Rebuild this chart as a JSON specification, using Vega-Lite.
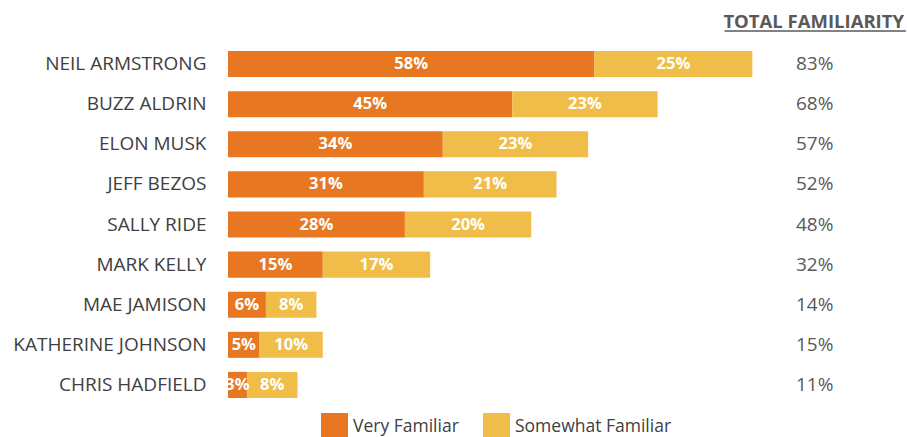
{
  "$schema": "https://vega.github.io/schema/vega-lite/v6.json",
  "autosize": {"type": "none"},
  "width": 676,
  "height": 361,
  "padding": {"left": 228, "top": 44, "right": 3, "bottom": 32},
  "background": "white",
  "config": {"view": {"stroke": null}, "font": "Open Sans"},
  "title": {
    "text": "TOTAL FAMILIARITY",
    "anchor": "end",
    "frame": "group",
    "fontSize": 18.5,
    "fontWeight": "bold",
    "color": "#595959",
    "offset": -1,
    "font": "Open Sans"
  },
  "datasets": {
    "bars": [
      {"name": "NEIL ARMSTRONG", "level": "Very Familiar", "value": 58},
      {"name": "NEIL ARMSTRONG", "level": "Somewhat Familiar", "value": 25},
      {"name": "BUZZ ALDRIN", "level": "Very Familiar", "value": 45},
      {"name": "BUZZ ALDRIN", "level": "Somewhat Familiar", "value": 23},
      {"name": "ELON MUSK", "level": "Very Familiar", "value": 34},
      {"name": "ELON MUSK", "level": "Somewhat Familiar", "value": 23},
      {"name": "JEFF BEZOS", "level": "Very Familiar", "value": 31},
      {"name": "JEFF BEZOS", "level": "Somewhat Familiar", "value": 21},
      {"name": "SALLY RIDE", "level": "Very Familiar", "value": 28},
      {"name": "SALLY RIDE", "level": "Somewhat Familiar", "value": 20},
      {"name": "MARK KELLY", "level": "Very Familiar", "value": 15},
      {"name": "MARK KELLY", "level": "Somewhat Familiar", "value": 17},
      {"name": "MAE JAMISON", "level": "Very Familiar", "value": 6},
      {"name": "MAE JAMISON", "level": "Somewhat Familiar", "value": 8},
      {"name": "KATHERINE JOHNSON", "level": "Very Familiar", "value": 5},
      {"name": "KATHERINE JOHNSON", "level": "Somewhat Familiar", "value": 10},
      {"name": "CHRIS HADFIELD", "level": "Very Familiar", "value": 3},
      {"name": "CHRIS HADFIELD", "level": "Somewhat Familiar", "value": 8}
    ],
    "totals": [
      {"name": "NEIL ARMSTRONG", "total": 83},
      {"name": "BUZZ ALDRIN", "total": 68},
      {"name": "ELON MUSK", "total": 57},
      {"name": "JEFF BEZOS", "total": 52},
      {"name": "SALLY RIDE", "total": 48},
      {"name": "MARK KELLY", "total": 32},
      {"name": "MAE JAMISON", "total": 14},
      {"name": "KATHERINE JOHNSON", "total": 15},
      {"name": "CHRIS HADFIELD", "total": 11}
    ]
  },
  "encoding": {
    "y": {
      "field": "name",
      "type": "nominal",
      "sort": ["NEIL ARMSTRONG", "BUZZ ALDRIN", "ELON MUSK", "JEFF BEZOS", "SALLY RIDE", "MARK KELLY", "MAE JAMISON", "KATHERINE JOHNSON", "CHRIS HADFIELD"],
      "scale": {"paddingInner": 0.35, "paddingOuter": 0.175},
      "axis": {
        "title": null,
        "domain": false,
        "ticks": false,
        "labelPadding": 22,
        "labelFontSize": 19,
        "labelColor": "#404040",
        "labelFont": "Open Sans",
        "labelLimit": 300
      }
    }
  },
  "layer": [
    {
      "data": {"name": "bars"},
      "transform": [
        {"calculate": "datum.level === 'Very Familiar' ? 0 : 1", "as": "ord"},
        {"stack": "value", "groupby": ["name"], "sort": [{"field": "ord"}], "as": ["v0", "v1"]},
        {"calculate": "(datum.v0 + datum.v1) / 2", "as": "mid"},
        {"calculate": "datum.value + '%'", "as": "label"}
      ],
      "layer": [
        {
          "mark": {"type": "bar"},
          "encoding": {
            "x": {
              "field": "v0",
              "type": "quantitative",
              "scale": {"domain": [0, 107], "nice": false},
              "axis": null
            },
            "x2": {"field": "v1"},
            "color": {
              "field": "level",
              "type": "nominal",
              "scale": {"domain": ["Very Familiar", "Somewhat Familiar"], "range": ["#E87722", "#F0BE48"]},
              "legend": {
                "title": null,
                "orient": "none",
                "direction": "horizontal",
                "legendX": 93,
                "legendY": 369,
                "symbolType": "square",
                "symbolSize": 729,
                "symbolStrokeWidth": 0,
                "symbolOpacity": 1,
                "labelFontSize": 17.5,
                "labelColor": "#404040",
                "labelFont": "Open Sans",
                "labelOffset": 5,
                "columnPadding": 24
              }
            }
          }
        },
        {
          "mark": {"type": "text", "color": "white", "fontWeight": "bold", "fontSize": 16.5, "font": "Open Sans", "align": "center", "baseline": "middle"},
          "encoding": {
            "x": {"field": "mid", "type": "quantitative"},
            "text": {"field": "label", "type": "nominal"}
          }
        }
      ]
    },
    {
      "data": {"name": "totals"},
      "transform": [{"calculate": "datum.total + '%'", "as": "label"}],
      "mark": {"type": "text", "align": "left", "baseline": "middle", "fontSize": 19, "color": "#595959", "font": "Open Sans"},
      "encoding": {
        "x": {"datum": 89.9, "type": "quantitative"},
        "text": {"field": "label", "type": "nominal"}
      }
    },
    {
      "data": {"values": [{}]},
      "mark": {"type": "rule", "color": "#595959", "strokeWidth": 1.5},
      "encoding": {
        "x": {"datum": 78.6, "type": "quantitative"},
        "x2": {"datum": 107.3},
        "y": {"value": -13}
      }
    }
  ]
}
